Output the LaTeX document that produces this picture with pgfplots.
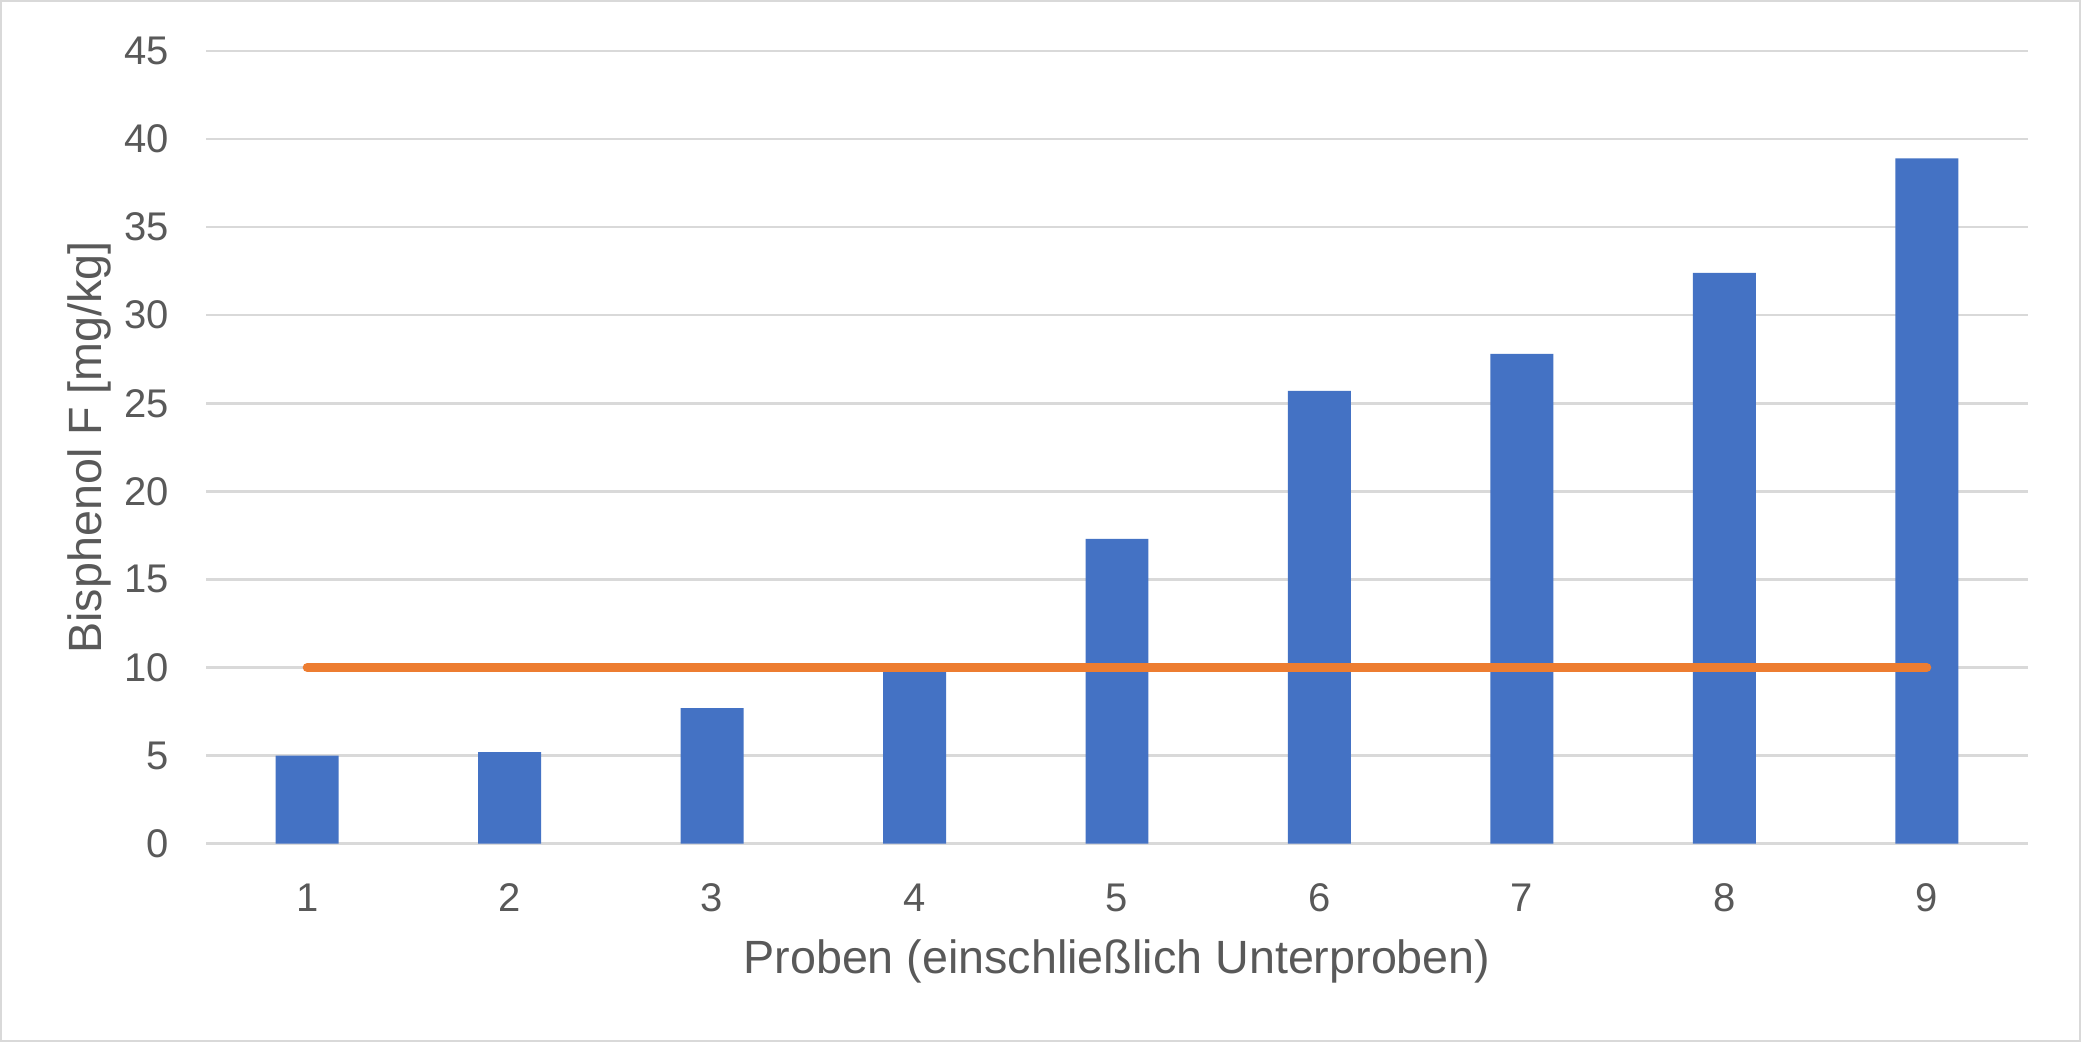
\documentclass[border=0pt]{standalone}
\usepackage{fontspec}
\setmainfont{Liberation Sans}
\usepackage{pgfplots}
\pgfplotsset{compat=1.18}
\definecolor{barblue}{HTML}{4472C4}
\definecolor{lineorange}{HTML}{ED7D31}
\definecolor{gridgray}{HTML}{D9D9D9}
\definecolor{textgray}{HTML}{595959}
\begin{document}
\begin{tikzpicture}
\useasboundingbox (0,0) rectangle (624.3pt,312.6pt);
\fill[white] (0,0) rectangle (624.3pt,312.6pt);
\draw[gridgray, line width=0.7pt] (0.35pt,0.35pt) rectangle (623.95pt,312.25pt);
\begin{axis}[
  at={(61.8pt,59.5pt)}, anchor=south west,
  scale only axis, width=546.6pt, height=237.8pt,
  xmin=0.5, xmax=9.5, ymin=0, ymax=45,
  xtick={1,...,9}, ytick={0,5,...,45},
  axis line style={draw=none},
  major tick length=0pt,
  tick style={draw=none},
  ymajorgrids,
  grid style={gridgray, line width=0.75pt},
  /pgf/number format/assume math mode=true,
  ticklabel style={font=\fontsize{12}{14}\selectfont, text=textgray},
  yticklabel style={anchor=east, inner sep=0pt, xshift=-11pt},
  xticklabel style={anchor=north, inner sep=0pt, yshift=-11.8pt},
  xlabel={Proben (einschließlich Unterproben)},
  ylabel={Bisphenol F [mg/kg]},
  label style={font=\fontsize{14}{17}\selectfont, text=textgray},
  xlabel style={at={(axis description cs:0.5,-0.1632)}, anchor=base},
  ylabel style={at={(axis description cs:-0.05727,0.5)}, anchor=base},
  clip=false,
]
\addplot[ybar, bar width=0.311, fill=barblue, draw=none]
  coordinates {(1,5.0) (2,5.2) (3,7.7) (4,9.8) (5,17.3) (6,25.7) (7,27.8) (8,32.4) (9,38.9)};
\addplot[lineorange, line width=2.7pt, line cap=round, mark=none]
  coordinates {(1,10) (9,10)};
\end{axis}
\end{tikzpicture}
\end{document}
